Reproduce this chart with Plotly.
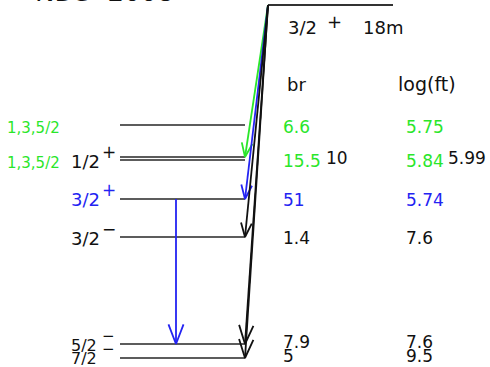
import numpy as np
import plotly.graph_objects as go

# ---------------- data (diagram positions, top = 0) ----------------
parent_pos = 5
level_pos = [125, 157, 160, 199, 237, 344, 358]
level_spin_left = ["1,3,5/2", "", "1,3,5/2", "3/2", "3/2", "5/2", "7/2"]

spin_labels = ["1/2", "3/2", "3/2", "5/2", "7/2"]
spin_parity = ["+", "+", "−", "−", "−"]
spin_label_pos = [161, 199, 238, 345, 358]
spin_colors = ["black", "blue", "black", "black", "black"]

beta_to = [1, 3, 4, 5, 6]
beta_colors = ["green", "blue", "black", "black", "black"]

gamma_from = [3]
gamma_to = [5]
gamma_colors = ["blue"]

row_pos = [127, 161, 200, 238, 342, 356]
br_values = ["6.6", "15.5", "51", "1.4", "7.9", "5"]
logft_values = ["5.75", "5.84", "5.74", "7.6", "7.6", "9.5"]
row_colors = ["green", "green", "blue", "black", "black", "black"]
br_extra = "10"
logft_extra = "5.99"

parent_spin = "3/2"
parent_parity = "+"
parent_halflife = "18m"
title_text = "NDS  2008"

# ---------------- style / layout constants ----------------
W, H = 490, 367
COL = {"green": "#2ae62a", "blue": "#2323f2", "black": "#111111"}
LEVEL_X0, LEVEL_X1 = 120, 245
PARENT_X0, PARENT_X1 = 268, 393
GAMMA_X = 176
HEAD_LEN = {"short": 15, "long": 20}
HEAD_ANG = np.deg2rad(21)
FONT = "DejaVu Sans"

fig = go.Figure()


def line(xs, ys, color, width):
    fig.add_trace(go.Scatter(x=xs, y=ys, mode="lines",
                             line=dict(color=color, width=width),
                             hoverinfo="skip", showlegend=False))


def arrow(x0, y0, x1, y1, color, hl):
    line([x0, x1], [y0, y1], color, 1.8)
    d = np.array([x1 - x0, y1 - y0], dtype=float)
    d /= np.linalg.norm(d)
    wings = []
    for s in (1, -1):
        c, sn = np.cos(s * HEAD_ANG), np.sin(s * HEAD_ANG)
        r = np.array([c * d[0] - sn * d[1], sn * d[0] + c * d[1]])
        wings.append((x1 - hl * r[0], y1 - hl * r[1]))
    line([wings[0][0], x1, wings[1][0]], [wings[0][1], y1, wings[1][1]], color, 1.8)


def text(x, y, s, color="black", size=17, anchor="left"):
    fig.add_annotation(x=x, y=y, xref="x", yref="y", text=s, showarrow=False,
                       xanchor=anchor, yanchor="middle",
                       font=dict(family=FONT, size=size, color=COL.get(color, color)))


# parent level
line([PARENT_X0, PARENT_X1], [parent_pos, parent_pos], "#333333", 1.8)

# daughter levels
for y in level_pos:
    line([LEVEL_X0, LEVEL_X1], [y, y], "#5c5c5c", 2.2)

# beta feeding arrows
for idx, c in zip(beta_to, beta_colors):
    hl = HEAD_LEN["long"] if level_pos[idx] > 300 else HEAD_LEN["short"]
    arrow(PARENT_X0, parent_pos, LEVEL_X1, level_pos[idx], COL[c], hl)

# gamma transitions
for f, t, c in zip(gamma_from, gamma_to, gamma_colors):
    arrow(GAMMA_X, level_pos[f], GAMMA_X, level_pos[t], COL[c], HEAD_LEN["long"] + 1)

# left-side green spin lists
for y, s in zip([128, 163], [level_spin_left[0], level_spin_left[2]]):
    text(62, y, s, "green", 15, "right")

# spin labels with parity
for s, p, y, c in zip(spin_labels, spin_parity, spin_label_pos, spin_colors):
    small = y > 300
    text(69, y, s, c, 16 if small else 18)
    text(100, y - 9, p, c, 15 if small else 17)

# parent labels
text(286, 27, parent_spin, "black", 18)
text(325, 21, parent_parity, "black", 18)
text(361, 27, parent_halflife, "black", 18)

# column headers
text(285, 84, "br", "black", 18)
text(396, 84, "log(ft)", "black", 19)

# values
for y, b, l, c in zip(row_pos, br_values, logft_values, row_colors):
    text(281, y, b, c, 17)
    text(404, y, l, c, 17)
text(324, 158, br_extra, "black", 17)
text(446, 158, logft_extra, "black", 17)

# cut-off title at the top
fig.add_annotation(x=33 / W, y=1 + 7.5 / H, xref="paper", yref="paper", text=title_text,
                   showarrow=False, xanchor="left", yanchor="middle",
                   font=dict(family=FONT, size=26, color="#111111"))

fig.update_layout(
    width=W, height=H, margin=dict(l=0, r=0, t=0, b=0),
    paper_bgcolor="white", plot_bgcolor="white",
    xaxis=dict(range=[0, W], visible=False, fixedrange=True),
    yaxis=dict(range=[H, 0], visible=False, fixedrange=True),
)
fig.write_html("out.html", config={"displayModeBar": False},
               post_script="document.body.style.margin='0';document.body.style.overflow='hidden';")
